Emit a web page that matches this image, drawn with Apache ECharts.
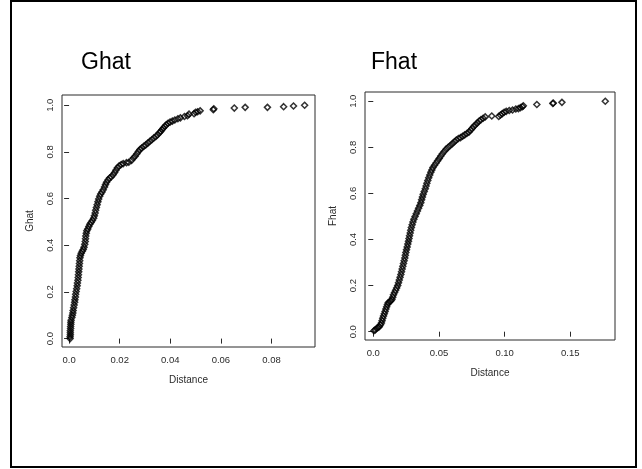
<!DOCTYPE html>
<html>
<head>
<meta charset="utf-8">
<script src="https://cdn.jsdelivr.net/npm/echarts@6/dist/echarts.min.js"></script>
<style>
    html, body { margin: 0; padding: 0; background: #fff; }
    #chart { width: 642px; height: 469px; }
</style>
</head>
<body>
<div id="chart"></div>
<script>
// Ghat: [distance, value]
const ghatPoints = [
    [0.0004, 0.000], [0.0004, 0.008], [0.0005, 0.016], [0.0005, 0.025], [0.0005, 0.034],
    [0.0006, 0.043], [0.0006, 0.052], [0.0007, 0.061], [0.0007, 0.070], [0.0008, 0.079],
    [0.0011, 0.090], [0.0013, 0.100], [0.0015, 0.110], [0.0016, 0.120],
    [0.0018, 0.132], [0.0020, 0.144], [0.0022, 0.156], [0.0023, 0.166], [0.0025, 0.178], [0.0026, 0.190],
    [0.0028, 0.202], [0.0030, 0.214], [0.0032, 0.226], [0.0033, 0.238], [0.0035, 0.250], [0.0036, 0.262],
    [0.0037, 0.274], [0.0038, 0.286], [0.0039, 0.298], [0.0040, 0.310], [0.0041, 0.322], [0.0042, 0.334], [0.0043, 0.346],
    [0.0045, 0.356], [0.0048, 0.366], [0.0052, 0.374],
    [0.0056, 0.382], [0.0059, 0.392], [0.0062, 0.404],
    [0.0064, 0.416], [0.0065, 0.428], [0.0066, 0.440], [0.0068, 0.452], [0.0070, 0.462],
    [0.0074, 0.470], [0.0078, 0.480], [0.0082, 0.490],
    [0.0087, 0.498], [0.0092, 0.506], [0.0097, 0.516], [0.0100, 0.526],
    [0.0103, 0.538], [0.0105, 0.550], [0.0108, 0.562], [0.0111, 0.574],
    [0.0114, 0.586], [0.0117, 0.598], [0.0121, 0.610], [0.0125, 0.620],
    [0.0130, 0.628], [0.0135, 0.638], [0.0140, 0.650],
    [0.0144, 0.660], [0.0148, 0.670], [0.0154, 0.680],
    [0.0160, 0.688], [0.0167, 0.694], [0.0174, 0.702],
    [0.0180, 0.712], [0.0185, 0.722], [0.0191, 0.732],
    [0.0198, 0.740], [0.0206, 0.746], [0.0214, 0.750],
    [0.0227, 0.754], [0.0236, 0.756], [0.0247, 0.764],
    [0.0254, 0.774], [0.0261, 0.782], [0.0268, 0.792],
    [0.0274, 0.802], [0.0280, 0.810], [0.0287, 0.817],
    [0.0295, 0.824], [0.0303, 0.830], [0.0311, 0.838],
    [0.0319, 0.845], [0.0327, 0.852], [0.0335, 0.860], [0.0343, 0.866],
    [0.0350, 0.874], [0.0357, 0.882], [0.0362, 0.888], [0.0367, 0.895],
    [0.0372, 0.902], [0.0378, 0.909], [0.0384, 0.916], [0.0391, 0.923],
    [0.0399, 0.928], [0.0408, 0.932], [0.0418, 0.937],
    [0.0430, 0.942], [0.0440, 0.946], [0.0456, 0.952], [0.0468, 0.955], [0.0474, 0.962],
    [0.0494, 0.964], [0.0500, 0.970], [0.0508, 0.972], [0.0518, 0.976],
    [0.0570, 0.981], [0.0572, 0.985], [0.0653, 0.988], [0.0696, 0.991], [0.0784, 0.991],
    [0.0848, 0.994], [0.0887, 0.997], [0.0931, 1.000]
];

// Fhat: [distance, value]
const fhatPoints = [
    [0.0005, 0.004], [0.0015, 0.008], [0.0025, 0.014], [0.0036, 0.018], [0.0046, 0.022],
    [0.0055, 0.030], [0.0062, 0.038], [0.0067, 0.048], [0.0072, 0.058], [0.0078, 0.068],
    [0.0084, 0.078], [0.0090, 0.088], [0.0096, 0.098], [0.0102, 0.108], [0.0108, 0.118],
    [0.0114, 0.126], [0.0124, 0.130], [0.0134, 0.134], [0.0142, 0.140], [0.0148, 0.150],
    [0.0154, 0.160], [0.0162, 0.170], [0.0170, 0.180], [0.0178, 0.190], [0.0186, 0.200],
    [0.0192, 0.212], [0.0198, 0.224], [0.0204, 0.236], [0.0210, 0.248], [0.0215, 0.260],
    [0.0220, 0.272], [0.0225, 0.284], [0.0230, 0.296], [0.0235, 0.308], [0.0240, 0.320],
    [0.0244, 0.332], [0.0248, 0.344], [0.0253, 0.356], [0.0258, 0.368], [0.0263, 0.380],
    [0.0268, 0.392], [0.0272, 0.404], [0.0276, 0.416], [0.0281, 0.428], [0.0285, 0.440],
    [0.0290, 0.452], [0.0296, 0.464], [0.0302, 0.476], [0.0309, 0.488], [0.0318, 0.500],
    [0.0327, 0.512], [0.0336, 0.524], [0.0345, 0.536], [0.0354, 0.548], [0.0362, 0.560],
    [0.0368, 0.572], [0.0374, 0.584], [0.0380, 0.596], [0.0388, 0.608], [0.0396, 0.620],
    [0.0402, 0.632], [0.0408, 0.644], [0.0415, 0.656], [0.0422, 0.668], [0.0430, 0.680],
    [0.0438, 0.692], [0.0446, 0.702], [0.0454, 0.712], [0.0466, 0.722], [0.0478, 0.732],
    [0.0490, 0.742], [0.0502, 0.752], [0.0514, 0.762], [0.0526, 0.772], [0.0540, 0.782],
    [0.0554, 0.792], [0.0570, 0.800], [0.0586, 0.808], [0.0602, 0.816], [0.0618, 0.824],
    [0.0632, 0.832], [0.0648, 0.838], [0.0664, 0.842], [0.0680, 0.848], [0.0696, 0.854],
    [0.0712, 0.860], [0.0728, 0.866], [0.0740, 0.874], [0.0752, 0.882], [0.0764, 0.890],
    [0.0778, 0.898], [0.0792, 0.906], [0.0806, 0.914], [0.0820, 0.920], [0.0836, 0.926],
    [0.0852, 0.932], [0.0902, 0.936], [0.0955, 0.934], [0.0968, 0.940], [0.0982, 0.946],
    [0.0996, 0.952], [0.1012, 0.956], [0.1035, 0.960], [0.1060, 0.962], [0.1085, 0.966],
    [0.1105, 0.968], [0.1120, 0.972], [0.1135, 0.976], [0.1142, 0.980], [0.1245, 0.986],
    [0.1367, 0.990], [0.1370, 0.992], [0.1436, 0.995], [0.1766, 1.000]
];

const ghatXTicks = [0, 0.02, 0.04, 0.06, 0.08];
const ghatXLabels = ['0.0', '0.02', '0.04', '0.06', '0.08'];
const fhatXTicks = [0, 0.05, 0.10, 0.15];
const fhatXLabels = ['0.0', '0.05', '0.10', '0.15'];
const yTicks = [0, 0.2, 0.4, 0.6, 0.8, 1.0];
const yLabels = ['0.0', '0.2', '0.4', '0.6', '0.8', '1.0'];

const FONT = '"Liberation Sans", Arial, sans-serif';
const INK = '#2a2a2a';

document.addEventListener('DOMContentLoaded', () => {
    const chart = echarts.init(document.getElementById('chart'));
    chart.setOption(buildOption());
});

function labelFor(ticks, labels) {
    return (value) => {
        const idx = ticks.findIndex((t) => Math.abs(t - value) < 1e-9);
        return idx >= 0 ? labels[idx] : '';
    };
}

function makeXAxis(gridIndex, min, max, ticks, labels) {
    return {
        type: 'value',
        gridIndex,
        min,
        max,
        name: 'Distance',
        nameLocation: 'middle',
        nameGap: 28,
        nameTextStyle: { fontFamily: FONT, fontSize: 10, color: INK },
        axisLine: { show: false },
        splitLine: { show: false },
        axisTick: {
            show: true,
            inside: false,
            length: 5,
            customValues: ticks,
            lineStyle: { color: INK, width: 1 }
        },
        axisLabel: {
            customValues: ticks,
            formatter: labelFor(ticks, labels),
            margin: 8,
            fontFamily: FONT,
            fontSize: 9.5,
            color: INK
        }
    };
}

function makeYAxis(gridIndex, min, max, name) {
    return {
        type: 'value',
        gridIndex,
        min,
        max,
        name,
        nameLocation: 'middle',
        nameGap: 27,
        nameTextStyle: { fontFamily: FONT, fontSize: 10, color: INK },
        axisLine: { show: false },
        splitLine: { show: false },
        axisTick: {
            show: true,
            inside: false,
            length: 5,
            customValues: yTicks,
            lineStyle: { color: INK, width: 1 }
        },
        axisLabel: {
            customValues: yTicks,
            formatter: labelFor(yTicks, yLabels),
            rotate: 90,
            margin: 7,
            fontFamily: FONT,
            fontSize: 9.5,
            color: INK
        }
    };
}

function makeSeries(index, data) {
    return {
        type: 'scatter',
        xAxisIndex: index,
        yAxisIndex: index,
        data,
        symbol: 'diamond',
        symbolSize: 6,
        silent: true,
        itemStyle: {
            color: 'rgba(0,0,0,0)',
            borderColor: '#000',
            borderWidth: 1.5
        }
    };
}

function buildOption() {
    const titleStyle = { fontFamily: FONT, fontSize: 23, fontWeight: 'normal', color: '#000' };
    return {
        animation: false,
        backgroundColor: '#fff',
        title: [
            { text: 'Ghat', left: 76, top: 46, textStyle: titleStyle },
            { text: 'Fhat', left: 366, top: 46, textStyle: titleStyle }
        ],
        graphic: [
            {
                type: 'rect',
                shape: { x: 11, y: 1, width: 625, height: 466 },
                style: { fill: 'none', stroke: '#000', lineWidth: 2 },
                silent: true
            }
        ],
        grid: [
            { left: 62, top: 95, width: 253, height: 252, show: true, borderColor: INK, borderWidth: 1, backgroundColor: 'transparent' },
            { left: 365, top: 92, width: 250, height: 248, show: true, borderColor: INK, borderWidth: 1, backgroundColor: 'transparent' }
        ],
        xAxis: [
            makeXAxis(0, -0.0028, 0.0972, ghatXTicks, ghatXLabels),
            makeXAxis(1, -0.0063, 0.184, fhatXTicks, fhatXLabels)
        ],
        yAxis: [
            makeYAxis(0, -0.036, 1.044, 'Ghat'),
            makeYAxis(1, -0.036, 1.040, 'Fhat')
        ],
        series: [
            makeSeries(0, ghatPoints),
            makeSeries(1, fhatPoints)
        ]
    };
}
</script>
</body>
</html>
